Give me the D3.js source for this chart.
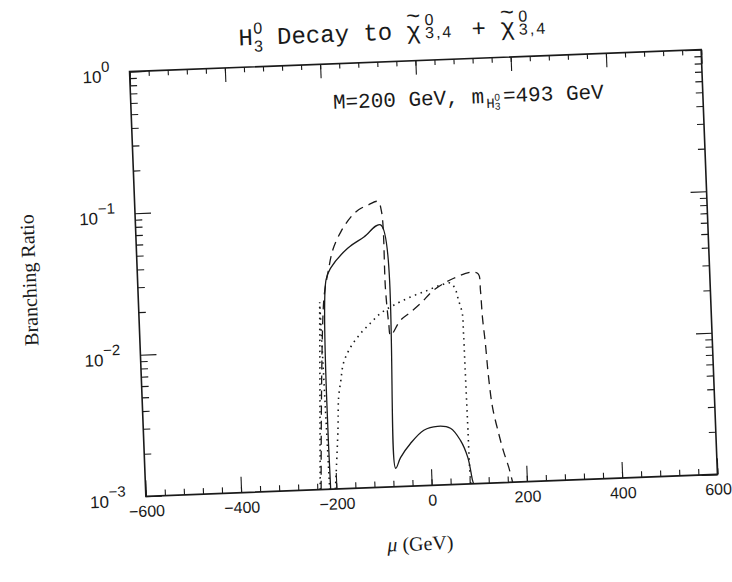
<!DOCTYPE html>
<html>
<head>
<meta charset="utf-8">
<script src="https://cdn.jsdelivr.net/npm/d3@7"></script>
<style>
body { margin: 0; background: #fff; }
</style>
</head>
<body>
<svg id="chart" width="732" height="582"></svg>
<script>
// axis ticks
var muTicks = [-600, -400, -200, 0, 200, 400, 600];
var brTicks = [1e-3, 1e-2, 1e-1, 1];
var brExponents = ['\u22123', '\u22122', '\u22121', '0'];

// curves: [mu (GeV), branching ratio]
var solidCurve = [[-212, 0.001], [-205, 0.030], [-194, 0.0364], [-157, 0.0495], [-122, 0.0589], [-86, 0.071],
    [-74, 0.00135], [-63, 0.0016], [-41, 0.0020], [-12, 0.00246], [17, 0.0026], [44, 0.0025],
    [64, 0.00204], [78, 0.00154], [86, 0.00106], [88, 0.001]];
var dashedCurve = [[-232, 0.001], [-211, 0.022], [-200, 0.034], [-188, 0.049], [-170, 0.065], [-148, 0.082],
    [-131, 0.092], [-110, 0.099], [-90, 0.104], [-83, 0.0875], [-81, 0.025], [-77, 0.0143], [-74, 0.0117],
    [-52, 0.0149], [-30, 0.0169], [-8, 0.0194], [20, 0.0238], [63, 0.0285], [103, 0.0311], [115, 0.030],
    [118, 0.023], [120, 0.0149], [124, 0.00975], [128, 0.0056], [134, 0.0034], [145, 0.0022],
    [153, 0.00168], [163, 0.00128], [170, 0.001]];
var dottedSpike = [[-234, 0.001], [-220, 0.021], [-214, 0.001]];
var dottedCurve = [[-202, 0.001], [-192, 0.0026], [-188, 0.0044], [-182, 0.0058], [-175, 0.0077], [-159, 0.0099],
    [-136, 0.0124], [-115, 0.0145], [-93, 0.0169], [-65, 0.0191], [-29, 0.0216], [7, 0.0238], [35, 0.0257],
    [56, 0.0264], [66, 0.0235], [71, 0.020], [78, 0.0161], [79, 0.0116], [79.5, 0.0071], [80, 0.0041],
    [80.5, 0.0024], [81, 0.0013], [82, 0.001]];

var W = 572, H = 425, frameLeft = 137.5, frameTop = 60.5;
var ink = '#1a1a1a';

var svg = d3.select('#chart');
svg.append('rect').attr('width', 732).attr('height', 582).attr('fill', '#fff');

// the scanned page is a little tilted
var page = svg.append('g').attr('transform', 'rotate(-2.2,423.5,273)');
var plot = page.append('g').attr('transform', 'translate(' + frameLeft + ',' + frameTop + ')');

var x = d3.scaleLinear().domain([-600, 600]).range([0, W]);
var y = d3.scaleLog().domain([1e-3, 1]).range([H, 0]);

// minor tick positions
var xMinor = d3.range(-600, 601, 40);
var yMinor = [];
[-3, -2, -1].forEach(function(e) {
    for (var k = 2; k < 10; k++) yMinor.push(k * Math.pow(10, e));
});

function styleAxis(g) {
    g.select('.domain').remove();
    g.selectAll('line').attr('stroke', ink).attr('stroke-width', 1.1);
}

// bottom
plot.append('g').attr('transform', 'translate(0,' + H + ')')
    .call(d3.axisBottom(x).tickValues(xMinor).tickSize(-6).tickFormat('')).call(styleAxis);
var xAx = plot.append('g').attr('transform', 'translate(0,' + H + ')')
    .call(d3.axisBottom(x).tickValues(muTicks).tickSize(-16).tickPadding(9)
        .tickFormat(function(d) { return d < 0 ? '\u2212' + (-d) : d; }))
    .call(styleAxis);
xAx.selectAll('text').attr('font-family', 'Liberation Sans, Arial, sans-serif').attr('font-size', 16).attr('fill', ink);

// top
plot.append('g').call(d3.axisTop(x).tickValues(xMinor).tickSize(-5).tickFormat('')).call(styleAxis);
plot.append('g').call(d3.axisTop(x).tickValues(muTicks).tickSize(-14).tickFormat('')).call(styleAxis);

// left
plot.append('g').call(d3.axisLeft(y).tickValues(yMinor).tickSize(-7).tickFormat('')).call(styleAxis);
var yAx = plot.append('g')
    .call(d3.axisLeft(y).tickValues(brTicks).tickSize(-16).tickPadding(20).tickFormat(''))
    .call(styleAxis);
yAx.selectAll('.tick text').each(function(d, i) {
    var t = d3.select(this)
        .attr('font-family', 'Liberation Sans, Arial, sans-serif')
        .attr('font-size', 17).attr('fill', ink).attr('dy', '0.55em');
    t.append('tspan').text('10');
    t.append('tspan').attr('font-size', 15).attr('dy', '-0.7em').text(brExponents[i]);
});

// right
plot.append('g').attr('transform', 'translate(' + W + ',0)')
    .call(d3.axisRight(y).tickValues(yMinor).tickSize(-7).tickFormat('')).call(styleAxis);
plot.append('g').attr('transform', 'translate(' + W + ',0)')
    .call(d3.axisRight(y).tickValues(brTicks).tickSize(-16).tickFormat('')).call(styleAxis);

// frame
plot.append('rect').attr('width', W).attr('height', H)
    .attr('fill', 'none').attr('stroke', ink).attr('stroke-width', 1.6);

// curves
plot.append('clipPath').attr('id', 'clip').append('rect').attr('width', W).attr('height', H);
var curves = plot.append('g').attr('clip-path', 'url(#clip)');

var smooth = d3.line().x(function(d) { return x(d[0]); }).y(function(d) { return y(d[1]); })
    .curve(d3.curveCatmullRom.alpha(0.5));
var straight = d3.line().x(function(d) { return x(d[0]); }).y(function(d) { return y(d[1]); });

curves.append('path').datum(solidCurve).attr('d', smooth)
    .attr('fill', 'none').attr('stroke', ink).attr('stroke-width', 1.3);
curves.append('path').datum(dashedCurve).attr('d', smooth)
    .attr('fill', 'none').attr('stroke', ink).attr('stroke-width', 1.3).attr('stroke-dasharray', '9,6');
curves.append('path').datum(dottedSpike).attr('d', straight)
    .attr('fill', 'none').attr('stroke', ink).attr('stroke-width', 1.6).attr('stroke-dasharray', '1.5,4');
curves.append('path').datum(dottedCurve).attr('d', smooth)
    .attr('fill', 'none').attr('stroke', ink).attr('stroke-width', 1.6).attr('stroke-dasharray', '1.5,4.5');

// title
var mono = 'Liberation Mono, Courier New, monospace';
var sans = 'Liberation Sans, Arial, sans-serif';
var title = plot.append('text').attr('x', 110).attr('y', -22)
    .attr('font-family', mono).attr('font-size', 24).attr('fill', ink);
title.append('tspan').text('H');
title.append('tspan').attr('font-family', sans).attr('font-size', 16).attr('dx', 1).attr('dy', -11).text('0');
title.append('tspan').attr('font-family', sans).attr('font-size', 16).attr('dx', -8.9).attr('dy', 18).text('3');
title.append('tspan').attr('dy', -7).text(' Decay to ');
function chi(t) {
    t.append('tspan').text('\u03c7');
    t.append('tspan').attr('dx', -14.4).attr('dy', -15).text('~');
    t.append('tspan').attr('font-family', sans).attr('font-size', 16).attr('dx', 4).attr('dy', 2).text('0');
    t.append('tspan').attr('font-family', sans).attr('font-size', 16).attr('letter-spacing', 2)
        .attr('dx', -8.9).attr('dy', 13).text('3,4');
}
chi(title);
title.append('tspan').attr('dx', 4).text(' + ');
chi(title);

// parameter note
var note = plot.append('text').attr('x', 202).attr('y', 45)
    .attr('font-family', mono).attr('font-size', 21).attr('fill', ink);
note.append('tspan').text('M=200 GeV, m');
note.append('tspan').attr('font-size', 14).attr('dx', 2).attr('dy', 5).text('H');
note.append('tspan').attr('font-family', sans).attr('font-size', 10).attr('dy', -7).text('0');
note.append('tspan').attr('font-family', sans).attr('font-size', 10).attr('dx', -5.6).attr('dy', 9).text('3');
note.append('tspan').attr('dx', 3).attr('dy', -7).text('=493 GeV');

// axis titles
page.append('text').attr('transform', 'translate(36,265) rotate(-90)')
    .attr('text-anchor', 'middle').attr('font-family', 'Liberation Serif, Times New Roman, serif')
    .attr('font-size', 20).attr('fill', ink).text('Branching Ratio');
page.append('text').attr('x', 410).attr('y', 550)
    .attr('text-anchor', 'middle').attr('font-family', 'Liberation Serif, Times New Roman, serif')
    .attr('font-size', 20).attr('fill', ink)
    .call(function(t) {
        t.append('tspan').attr('font-style', 'italic').text('\u03bc');
        t.append('tspan').text(' (GeV)');
    });
</script>
</body>
</html>
